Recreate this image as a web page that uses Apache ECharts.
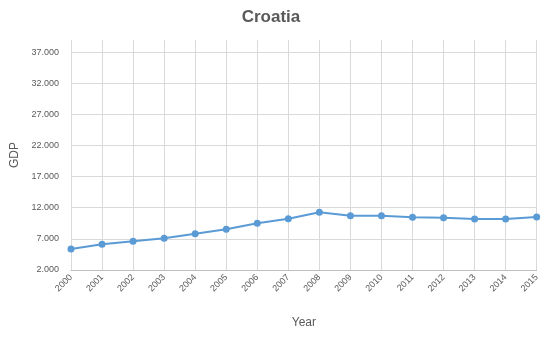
<!DOCTYPE html>
<html><head><meta charset="utf-8">
<script src="https://cdn.jsdelivr.net/npm/echarts@6/dist/echarts.min.js"></script>
<style>html,body{margin:0;padding:0;background:#fff}#c{width:542px;height:338px}</style>
</head><body><div id="c"></div>
<script>
const years = ['2000','2001','2002','2003','2004','2005','2006','2007','2008','2009','2010','2011','2012','2013','2014','2015'];
const gdp = [5370,6130,6610,7090,7830,8530,9500,10240,11270,10720,10720,10460,10400,10190,10190,10500];
const chart = echarts.init(document.getElementById('c'));
chart.setOption({
  animation:false,
  title:{text:'Croatia',left:'center',top:4,textStyle:{fontFamily:'Liberation Sans',fontSize:17,fontWeight:'bold',color:'#595959'}},
  grid:{left:71,right:5,top:40,bottom:68},
  xAxis:{type:'category',data:years,boundaryGap:false,name:'Year',nameLocation:'middle',nameGap:47,
    nameTextStyle:{fontFamily:'Liberation Sans',fontSize:12,color:'#595959'},
    axisLine:{lineStyle:{color:'#bfbfbf'}},axisTick:{show:false},
    splitLine:{show:true,lineStyle:{color:'#d9d9d9'}},
    axisLabel:{rotate:45,fontFamily:'Liberation Sans',fontSize:9,color:'#595959',margin:6}},
  yAxis:{type:'value',min:2000,max:38930,interval:5000,name:'GDP',nameLocation:'middle',nameGap:50,
    nameTextStyle:{fontFamily:'Liberation Sans',fontSize:12,color:'#595959'},
    axisLine:{show:false},axisTick:{show:false},
    splitLine:{lineStyle:{color:['#d9d9d9','#d9d9d9','#d9d9d9','#d9d9d9','#d9d9d9','#d9d9d9','#d9d9d9','#d9d9d9','rgba(0,0,0,0)']}},
    axisLabel:{fontFamily:'Liberation Sans',fontSize:9,color:'#595959',margin:12,showMaxLabel:false,
      formatter:v=>(v%5000===2000)?v.toLocaleString('en-US').replace(/,/g,'.'):''}},
  series:[{type:'line',data:gdp,symbol:'circle',symbolSize:7,
    lineStyle:{color:'#5B9BD5',width:2},itemStyle:{color:'#5B9BD5'}}]
});
</script></body></html>
